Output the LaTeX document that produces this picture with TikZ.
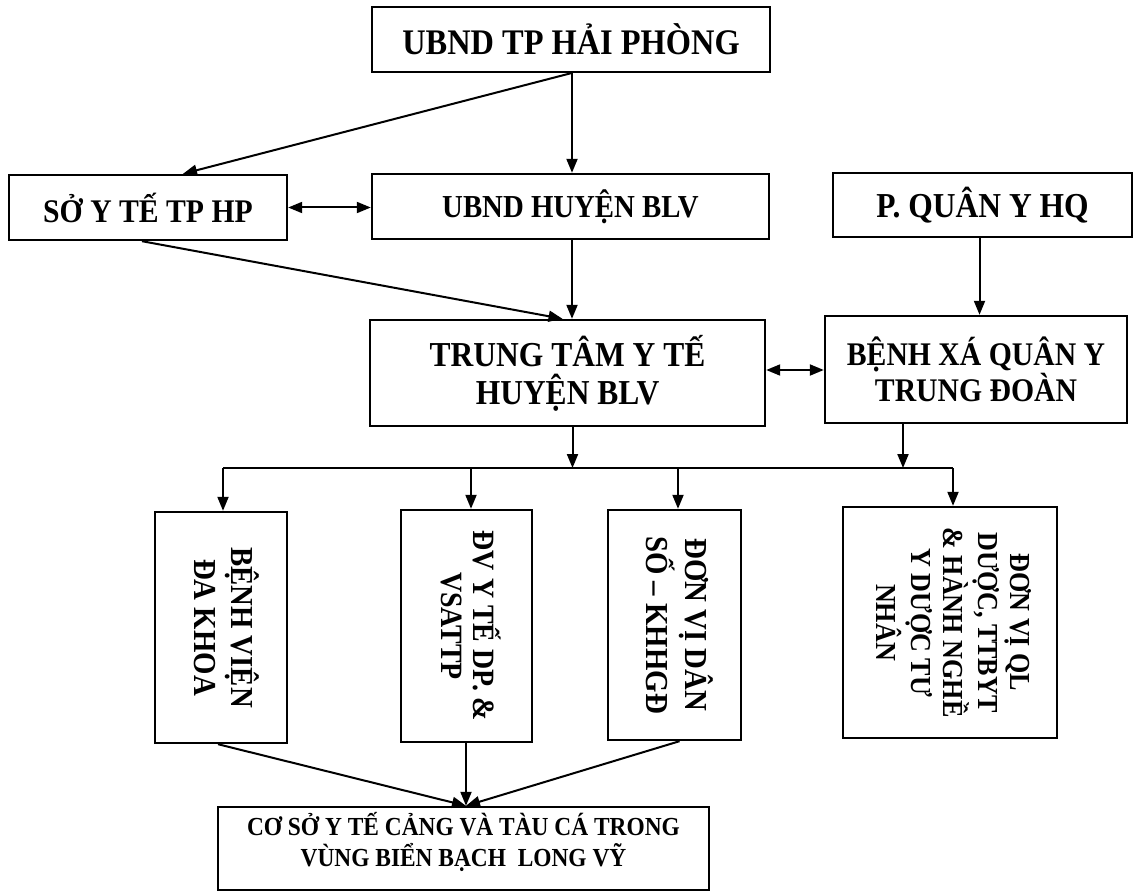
\documentclass[tikz,border=0pt]{standalone}
\usepackage{fontspec}
\usepackage{graphicx}
\setmainfont{Liberation Serif}[FakeStretch=0.9]
\usetikzlibrary{arrows.meta}
\tikzset{
 box/.style={draw, line width=2.4pt, inner sep=0pt, align=center},
 conn/.style={line width=2pt},
 arr/.style={conn, -{Triangle[length=14pt,width=11pt]}},
 darr/.style={conn, {Triangle[length=14pt,width=11pt]}-{Triangle[length=14pt,width=11pt]}},
}
\newcommand{\myfs}[2]{\fontsize{#1}{#2}\selectfont\bfseries}
\newcommand{\myvtext}[1]{\rotatebox{-90}{\begin{tabular}{@{}c@{}}#1\end{tabular}}}
\begin{document}
\begin{tikzpicture}[x=1pt,y=-1pt]
\useasboundingbox (0,0) rectangle (1139,893);
\fill[white] (0,0) rectangle (1139,893);
% boxes
\node[box, minimum width=398, minimum height=65, font=\myfs{36}{40}] (tp) at (571,39.5) {UBND TP HẢI PHÒNG};
\node[box, minimum width=278, minimum height=65, font=\myfs{33}{38}] (so) at (148,207.5) {SỞ Y TẾ TP HP};
\node[box, minimum width=397, minimum height=65, font=\myfs{32}{38}] (uh) at (570.5,206.5) {UBND HUYỆN BLV};
\node[box, minimum width=299, minimum height=64, font=\myfs{35}{38}] (pq) at (982.5,205) {P. QUÂN Y HQ};
\node[box, minimum width=395, minimum height=106, font=\myfs{35}{38}] (tt) at (567.5,373) {TRUNG TÂM Y TẾ\\HUYỆN BLV};
\node[box, minimum width=302, minimum height=107, font=\myfs{33}{36}] (bx) at (976,369.5) {BỆNH XÁ QUÂN Y\\TRUNG ĐOÀN};
\node[box, minimum width=132, minimum height=231, font=\myfs{32}{37}] (bv) at (221,627.5) {\myvtext{BỆNH VIỆN\\ĐA KHOA}};
\node[box, minimum width=131, minimum height=232, font=\myfs{31}{32}] (dv) at (466.5,626) {\myvtext{ĐV Y TẾ DP. \&\\VSATTP}};
\node[box, minimum width=133, minimum height=230, font=\myfs{32}{35}] (ds) at (674.5,625) {\myvtext{ĐƠN VỊ DÂN\\SỐ – KHHGĐ}};
\node[box, minimum width=214, minimum height=231, font=\myfs{29}{32}] (ql) at (950,622.5) {\myvtext{ĐƠN VỊ QL\\DƯỢC, TTBYT\\\& HÀNH NGHỀ\\Y DƯỢC TƯ\\NHÂN}};
\node[box, minimum width=491, minimum height=83, font=\myfs{26}{31}] (bot) at (463.5,848.5) {\parbox[c][83pt][t]{480pt}{\vspace*{5pt}\centering CƠ SỞ Y TẾ CẢNG VÀ TÀU CÁ TRONG\\VÙNG BIỂN BẠCH~ LONG VỸ}};
% coordinates
\coordinate (busL) at (223,468);
\coordinate (busR) at (953,468);
\coordinate (d2) at (471,468);
\coordinate (d3) at (678,468);
\coordinate (conv) at ([xshift=2.5pt]bot.north);
% connectors
\draw[arr] (tp.south) -- ([xshift=35pt]so.north);
\draw[arr] ([xshift=1pt]tp.south) -- ([xshift=1pt]tp.south |- uh.north);
\draw[darr] (so.east) -- (so.east -| uh.west);
\draw[arr] ([xshift=-6pt]so.south) -- ([xshift=-5pt]tt.north);
\draw[arr] ([xshift=1.5pt]uh.south) -- ([xshift=1.5pt]uh.south |- tt.north);
\draw[arr] ([xshift=-3pt]pq.south) -- ([xshift=-3pt]pq.south |- bx.north);
\draw[darr] ([yshift=3pt]tt.east) -- ([yshift=3pt]tt.east -| bx.west);
\draw[arr] ([xshift=5pt]tt.south) -- ([xshift=5pt]tt.south |- busL);
\draw[arr] ([xshift=-73pt]bx.south) -- ([xshift=-73pt]bx.south |- busL);
\draw[conn] (busL) -- (busR);
\draw[arr] (busL) -- (busL |- bv.north);
\draw[arr] (d2) -- (d2 |- dv.north);
\draw[arr] (d3) -- (d3 |- ds.north);
\draw[arr] (busR) -- (busR |- ql.north);
\draw[arr] ([xshift=-3pt]bv.south) -- (conv);
\draw[arr] (dv.south -| conv) -- (conv);
\draw[arr] ([xshift=5pt]ds.south) -- (conv);
\end{tikzpicture}
\end{document}
